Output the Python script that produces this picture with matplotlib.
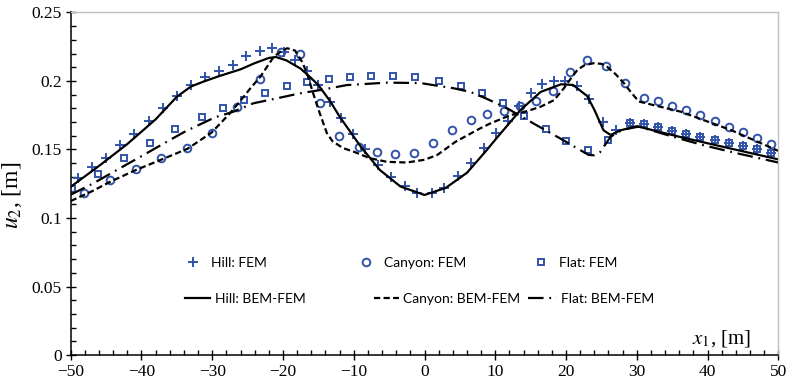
import matplotlib
matplotlib.use("Agg")
import matplotlib.pyplot as plt
from matplotlib.font_manager import FontProperties
from matplotlib.legend import Legend
from matplotlib.ticker import MultipleLocator

# FEM results (markers)
hill_fem_x = [-49, -47, -45, -43, -41, -39, -37, -35, -33, -31, -29, -27, -25.2, -23.3, -21.6,
              -19.9, -18.3, -16.6, -15.0, -13.4, -11.8, -10.1, -8.4, -6.6, -4.7, -2.8, -1.0,
              1.0, 2.8, 4.7, 6.6, 8.4, 10.1, 11.8, 13.4, 15.0, 16.6, 18.3, 19.9, 21.6, 23.3,
              25.2, 27, 29, 31, 33, 35, 37, 39, 41, 43, 45, 47, 49]
hill_fem_y = [0.129, 0.137, 0.144, 0.153, 0.161, 0.171, 0.180, 0.189, 0.197, 0.203, 0.207, 0.212,
              0.218, 0.222, 0.224, 0.221, 0.215, 0.207, 0.197, 0.185, 0.173, 0.161, 0.150, 0.139,
              0.130, 0.123, 0.118, 0.118, 0.122, 0.131, 0.140, 0.151, 0.162, 0.171, 0.182, 0.191,
              0.198, 0.200, 0.200, 0.196, 0.187, 0.170, 0.164, 0.1696, 0.1686, 0.1662, 0.1637,
              0.1611, 0.1589, 0.1569, 0.155, 0.1528, 0.1504, 0.1474]

canyon_fem_x = [-48.1, -44.4, -40.8, -37.2, -33.5, -30.0, -26.5, -23.3, -20.3, -17.6, -14.8,
                -12.1, -9.3, -6.7, -4.2, -1.5, 1.2, 3.9, 6.5, 8.9, 11.3, 13.5, 15.8, 18.1, 20.5,
                23.0, 25.7, 28.4, 31, 33, 35, 37, 39, 41, 43, 45, 47, 49]
canyon_fem_y = [0.1185, 0.128, 0.136, 0.1436, 0.151, 0.162, 0.181, 0.2015, 0.221, 0.2195, 0.184,
                0.160, 0.152, 0.148, 0.1465, 0.1477, 0.1545, 0.164, 0.1715, 0.1757, 0.178, 0.1818,
                0.1856, 0.193, 0.2066, 0.2155, 0.2112, 0.1983, 0.1878, 0.1854, 0.1820, 0.1788,
                0.1749, 0.1710, 0.1666, 0.1625, 0.1586, 0.1542]

flat_fem_x = [-49.8, -46.1, -42.4, -38.8, -35.2, -31.5, -28.5, -25.5, -22.5, -19.4, -16.6, -13.5,
              -10.5, -7.5, -4.5, -1.4, 2.1, 5.1, 8.1, 11.1, 14.0, 17.1, 20.0, 23.1, 26.0,
              29, 31, 33, 35, 37, 39, 41, 43, 45, 47, 49]
flat_fem_y = [0.121, 0.132, 0.1436, 0.155, 0.165, 0.174, 0.1805, 0.186, 0.1915, 0.196, 0.1995,
              0.2015, 0.2032, 0.2039, 0.2039, 0.2032, 0.2002, 0.1963, 0.191, 0.1837, 0.1747,
              0.1652, 0.1564, 0.1496, 0.157, 0.1696, 0.1686, 0.1662, 0.1637, 0.1611, 0.1589,
              0.1569, 0.155, 0.1528, 0.1504, 0.1474]

# BEM-FEM results (lines)
hill_bem_x = [-50, -46, -42, -38, -35, -33, -31, -29, -26, -24, -22, -21, -19.5, -17.5, -16,
              -15, -13.3, -12, -9, -6.3, -3.4, 0, 3, 6, 8.8, 10.3, 13.6, 16.4, 19.3, 21, 22,
              23, 24, 25.3, 26.3, 27.7, 30, 36, 43, 50]
hill_bem_y = [0.1228, 0.138, 0.154, 0.172, 0.1885, 0.196, 0.200, 0.2036, 0.2085, 0.213, 0.2168,
              0.2175, 0.215, 0.209, 0.202, 0.197, 0.185, 0.174, 0.152, 0.135, 0.123, 0.1168,
              0.122, 0.133, 0.1496, 0.159, 0.179, 0.192, 0.1976, 0.1971, 0.193, 0.189, 0.179,
              0.164, 0.1606, 0.164, 0.167, 0.1593, 0.151, 0.1428]

canyon_bem_x = [-50, -47, -44.4, -40.8, -37.1, -33.5, -30.1, -27.5, -26.5, -24.6, -23.2, -21.3,
                -20.3, -19.4, -18.3, -17.3, -16.6, -15.8, -14.8, -13.8, -13.0, -11.5, -10, -7.7,
                -5.3, -2.5, 0, 1.8, 4.4, 7.9, 9.3, 12.1, 14.5, 16.4, 18.3, 19.7, 20.7, 21.6,
                22.6, 23.9, 25.0, 25.8, 27.0, 28.2, 29.3, 30.3, 36.2, 43.3, 50]
canyon_bem_y = [0.1124, 0.1195, 0.1265, 0.135, 0.1428, 0.1505, 0.1623, 0.1764, 0.1825, 0.1947,
                0.2031, 0.2177, 0.2215, 0.2239, 0.2222, 0.214, 0.2056, 0.192, 0.1764, 0.162,
                0.156, 0.151, 0.1484, 0.1436, 0.141, 0.1405, 0.1425, 0.146, 0.1557, 0.1655,
                0.169, 0.175, 0.178, 0.1812, 0.186, 0.1947, 0.202, 0.208, 0.2115, 0.213, 0.2125,
                0.2104, 0.205, 0.1983, 0.191, 0.185, 0.1776, 0.1642, 0.149]

flat_bem_x = [-50, -46.8, -43.5, -39.7, -36.4, -33.7, -29.6, -27, -24.2, -20.9, -17.6, -14.7,
              -11, -5.3, -0.6, 4.1, 6.5, 8.8, 11.7, 15.4, 19.2, 22.0, 23.2, 24.0, 24.8, 26.3,
              28, 30.3, 35, 39.5, 44.2, 50]
flat_bem_y = [0.117, 0.1253, 0.135, 0.146, 0.1557, 0.1635, 0.1735, 0.1776, 0.1837, 0.1873,
              0.191, 0.1934, 0.197, 0.1988, 0.1985, 0.1947, 0.192, 0.187, 0.180, 0.169, 0.158,
              0.1496, 0.146, 0.1458, 0.148, 0.1593, 0.1645, 0.1667, 0.1595, 0.153, 0.1472,
              0.1405]

blue = "#3253a8"
plt.rcParams["font.family"] = "Liberation Serif"
plt.rcParams["mathtext.fontset"] = "stix"

fig = plt.figure(figsize=(7.9, 3.9), dpi=100)
ax = fig.add_axes([0.0895, 0.0897, 0.8957, 0.8783])

mk = dict(linestyle="none", color=blue, markerfacecolor="none")
p1, = ax.plot(hill_fem_x, hill_fem_y, marker="+", markersize=7, markeredgewidth=1.4, **mk)
p2, = ax.plot(canyon_fem_x, canyon_fem_y, marker="o", markersize=5.5, markeredgewidth=1.4, **mk)
p3, = ax.plot(flat_fem_x, flat_fem_y, marker="s", markersize=5, markeredgewidth=1.4, **mk)

l1, = ax.plot(hill_bem_x, hill_bem_y, color="black", linewidth=1.6)
l2, = ax.plot(canyon_bem_x, canyon_bem_y, color="black", linewidth=1.6, dashes=(2.8, 1.5))
l3, = ax.plot(flat_bem_x, flat_bem_y, color="black", linewidth=1.6, dashes=(7, 2.6, 0.8, 2.6))

ax.set_xlim(-50, 50)
ax.set_ylim(0, 0.25)
ax.xaxis.set_major_locator(MultipleLocator(10))
ax.xaxis.set_minor_locator(MultipleLocator(2))
ax.yaxis.set_minor_locator(MultipleLocator(0.01))
ax.set_yticks([0, 0.05, 0.1, 0.15, 0.2, 0.25])
ax.set_yticklabels(["0", "0.05", "0.1", "0.15", "0.2", "0.25"])

ax.tick_params(which="major", direction="inout", length=7, width=1, labelsize=12.5, pad=3)
ax.tick_params(which="minor", direction="in", length=3.5, width=1)

ax.spines["left"].set_linewidth(1.1)
ax.spines["bottom"].set_linewidth(1.1)
for s in ["top", "right"]:
    ax.spines[s].set_color("#c0c0c0")
    ax.spines[s].set_linewidth(1.0)

ax.set_ylabel(r"$u_2$, [m]", fontsize=17)
ax.yaxis.set_label_coords(-0.066, 0.467)
ax.set_xlabel(r"$x_1$, [m]", fontsize=15, ha="right")
ax.xaxis.set_label_coords(0.961, 0.079)

key_font = FontProperties(family="Lato", size=10)


def add_key(handle, label, x, y, hlen, pad):
    # one legend entry per box, so each can sit where the reference puts it
    leg = Legend(ax, [handle], [label], loc="center left", bbox_to_anchor=(x, y),
                 frameon=False, borderpad=0, borderaxespad=0, handlelength=hlen,
                 handletextpad=pad, numpoints=1, prop=key_font)
    ax.add_artist(leg)


row1, row2 = 0.269, 0.1635
add_key(p1, "Hill: FEM", 0.159, row1, 1.4, 0.6)
add_key(p2, "Canyon: FEM", 0.403, row1, 1.4, 0.6)
add_key(p3, "Flat: FEM", 0.651, row1, 1.4, 0.6)
add_key(l1, "Hill: BEM-FEM", 0.162, row2, 1.8, 0.3)
add_key(l2, "Canyon: BEM-FEM", 0.428, row2, 1.8, 0.3)
add_key(l3, "Flat: BEM-FEM", 0.646, row2, 2.1, 0.3)

fig.savefig("out.png", dpi=100)
